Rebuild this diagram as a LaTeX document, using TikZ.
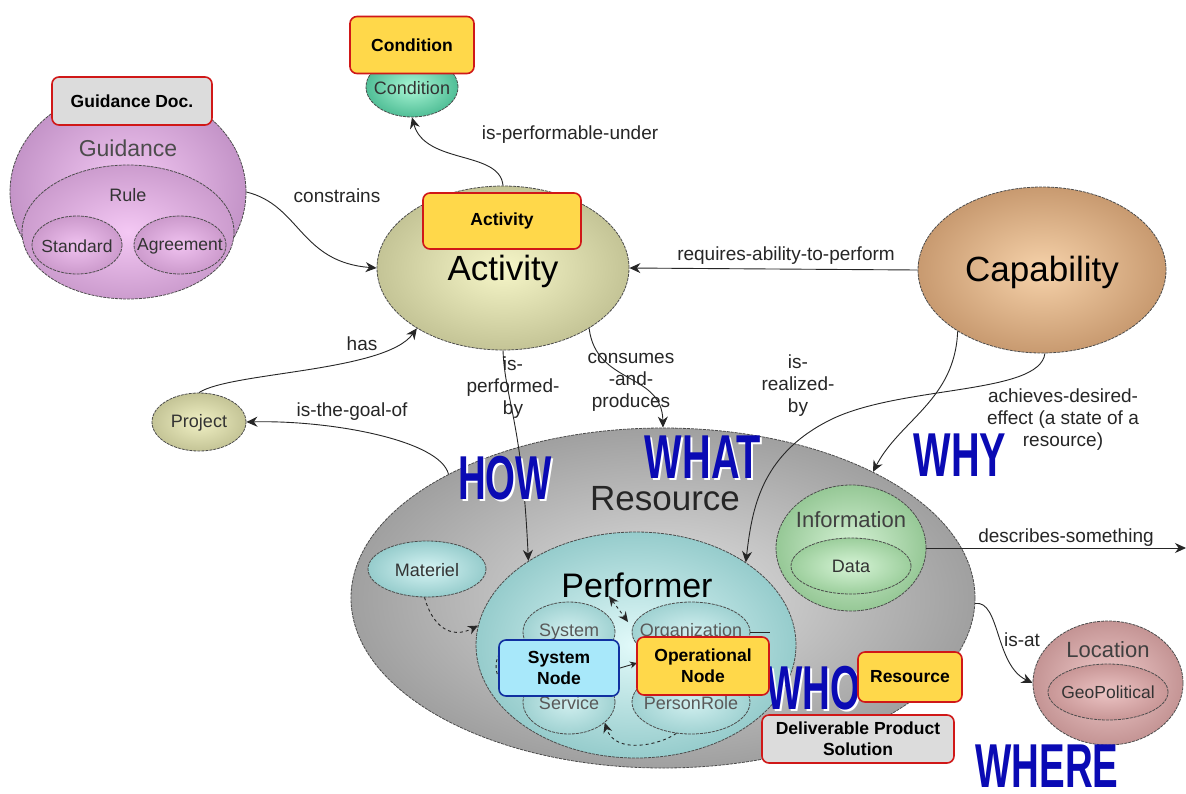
\documentclass[tikz,border=0pt]{standalone}
\usepackage{fontspec}
\setmainfont{Liberation Sans}
\usetikzlibrary{arrows.meta,shapes.geometric}
\definecolor{tagred}{HTML}{D01818}
\definecolor{tagyel}{HTML}{FFD84A}
\definecolor{taggray}{HTML}{DCDCDC}
\definecolor{tagblue}{HTML}{A8E8FA}
\definecolor{tagbluedraw}{HTML}{1030A0}
\definecolor{bigblue}{HTML}{0A0AB4}
\begin{document}
\begin{tikzpicture}[x=1pt,y=-1pt,
 ell/.style={ellipse, draw=black!70, line width=0.8pt, dash pattern=on 3pt off 1pt, inner sep=0pt},
 tag/.style={draw=tagred, line width=1.6pt, rounded corners=7pt, inner sep=0pt, align=center, font=\fontsize{17.5}{21}\selectfont\bfseries},
 lbl/.style={font=\fontsize{19}{22}\selectfont, align=center, text=black!85},
 con/.style={line width=0.9pt, draw=black!85, -{Stealth[length=11pt,width=10pt]}},
 dcon/.style={line width=0.9pt, draw=black!85, dashed, -{Stealth[length=10pt,width=9pt]}},
 big/.style={font=\fontsize{62}{62}\selectfont\bfseries, text=bigblue, inner sep=0pt},
 bigsh/.style={font=\fontsize{62}{62}\selectfont\bfseries, text=white, inner sep=0pt},
 etxt/.style={text=black!80, inner sep=0pt},
 small/.style={etxt, font=\fontsize{18}{21}\selectfont},
]
\useasboundingbox (0,0) rectangle (1186,793);
\fill[white] (0,0) rectangle (1186,793);

% ---------- Guidance ----------
\node[ell, minimum width=236pt, minimum height=206pt, inner color={rgb,255:red,246;green,204;blue,246}, outer color={rgb,255:red,196;green,148;blue,200}] (guid) at (128,192) {};
\node[ell, minimum width=212pt, minimum height=134pt, inner color={rgb,255:red,244;green,200;blue,244}, outer color={rgb,255:red,204;green,156;blue,206}] (rule) at (128,232) {};
\node[ell, minimum width=90pt, minimum height=58pt, inner color={rgb,255:red,240;green,194;blue,240}, outer color={rgb,255:red,204;green,154;blue,204}] (std) at (77,245) {};
\node[ell, minimum width=92pt, minimum height=58pt, inner color={rgb,255:red,240;green,194;blue,240}, outer color={rgb,255:red,204;green,154;blue,204}] (agr) at (180,245) {};
\node[etxt, font=\fontsize{23}{26}\selectfont, text=black!70] (guidT) at (128,148) {Guidance};
\node[etxt, font=\fontsize{18}{21}\selectfont] (ruleT) at (128,195) {Rule};
\node[etxt, font=\fontsize{17.5}{20}\selectfont] (stdT) at (77,246) {Standard};
\node[etxt, font=\fontsize{17.5}{20}\selectfont] (agrT) at (180,246) {Agreement};

% ---------- Condition ----------
\node[ell, minimum width=92pt, minimum height=60pt, inner color={rgb,255:red,170;green,246;blue,214}, outer color={rgb,255:red,80;green,190;blue,150}] (cond) at (412,87) {};
\node[small] (condT) at (412,88) {Condition};

% ---------- Activity ----------
\node[ell, minimum width=252pt, minimum height=164pt, inner color={rgb,255:red,246;green,246;blue,200}, outer color={rgb,255:red,196;green,196;blue,150}] (act) at (503,268) {};
\node[etxt, font=\fontsize{35}{40}\selectfont, text=black] (actT) at (503,271) {Activity};

% ---------- Capability ----------
\node[ell, minimum width=248pt, minimum height=166pt, inner color={rgb,255:red,246;green,210;blue,170}, outer color={rgb,255:red,200;green,154;blue,112}] (cap) at (1042,270) {};
\node[etxt, font=\fontsize{35}{40}\selectfont, text=black] (capT) at (1042,272) {Capability};

% ---------- Project ----------
\node[ell, minimum width=94pt, minimum height=58pt, inner color={rgb,255:red,240;green,240;blue,196}, outer color={rgb,255:red,196;green,196;blue,150}] (proj) at (199,422) {};
\node[small] (projT) at (199,423) {Project};

% ---------- Resource ----------
\node[ell, minimum width=624pt, minimum height=340pt, inner color={rgb,255:red,225;green,225;blue,225}, outer color={rgb,255:red,160;green,160;blue,160}] (res) at (663,598) {};
\node[etxt, font=\fontsize{35}{40}\selectfont, text=black!85] (resT) at (665,499) {Resource};

% Information
\node[ell, minimum width=150pt, minimum height=126pt, inner color={rgb,255:red,214;green,242;blue,214}, outer color={rgb,255:red,150;green,200;blue,150}] (info) at (851,548) {};
\node[ell, minimum width=120pt, minimum height=56pt, inner color={rgb,255:red,214;green,244;blue,214}, outer color={rgb,255:red,156;green,206;blue,156}] (data) at (851,566) {};
\node[etxt, font=\fontsize{22}{26}\selectfont, text=black!75] (infoT) at (851,520) {Information};
\node[small] (dataT) at (851,566) {Data};

% Materiel
\node[ell, minimum width=118pt, minimum height=56pt, inner color={rgb,255:red,214;green,244;blue,244}, outer color={rgb,255:red,150;green,204;blue,204}] (mat) at (427,569) {};
\node[small] (matT) at (427,570) {Materiel};

% Performer
\node[ell, minimum width=320pt, minimum height=226pt, inner color={rgb,255:red,226;green,250;blue,250}, outer color={rgb,255:red,150;green,204;blue,204}] (perf) at (636,645) {};
\node[etxt, font=\fontsize{34}{40}\selectfont, text=black] (perfT) at (637,585) {Performer};
\node[ell, minimum width=92pt, minimum height=60pt, inner color={rgb,255:red,210;green,240;blue,240}, outer color={rgb,255:red,160;green,210;blue,210}] (sys) at (569,632) {};
\node[ell, minimum width=118pt, minimum height=60pt, inner color={rgb,255:red,210;green,240;blue,240}, outer color={rgb,255:red,160;green,210;blue,210}] (org) at (691,632) {};
\node[ell, minimum width=92pt, minimum height=64pt, inner color={rgb,255:red,210;green,240;blue,240}, outer color={rgb,255:red,160;green,210;blue,210}] (serv) at (569,702) {};
\node[ell, minimum width=118pt, minimum height=64pt, inner color={rgb,255:red,210;green,240;blue,240}, outer color={rgb,255:red,160;green,210;blue,210}] (pers) at (691,702) {};
\node[small, text=black!65] (sysT) at (569,632) {System};
\node[small, text=black!65] (orgT) at (691,632) {Organization};
\node[small, text=black!65] (servT) at (569,703) {Service};
\node[small, text=black!65] (persT) at (691,703) {PersonRole};

% Location
\node[ell, minimum width=150pt, minimum height=124pt, inner color={rgb,255:red,240;green,204;blue,204}, outer color={rgb,255:red,196;green,148;blue,148}] (loc) at (1108,683) {};
\node[ell, minimum width=120pt, minimum height=56pt, inner color={rgb,255:red,236;green,196;blue,196}, outer color={rgb,255:red,200;green,150;blue,150}] (geo) at (1108,692) {};
\node[etxt, font=\fontsize{22}{26}\selectfont, text=black!75] (locT) at (1108,650) {Location};
\node[etxt, font=\fontsize{17.5}{20}\selectfont] (geoT) at (1108,692) {GeoPolitical};

% ---------- connectors ----------
\coordinate (outR) at (1186,548);
\coordinate (bmid) at (830,420);
\coordinate (so1) at (609,596);
\coordinate (so2) at (628,622);
\coordinate (so3) at (620,668);
\coordinate (so4) at (637,663);
\draw[con] (guid.east) .. controls (300,205) and (300,262) .. (act.west);
\draw[con] (act.north) .. controls (500,150) and (425,165) .. (cond.south);
\draw[con] (cap.west) -- (act.east);
\draw[con] (proj.north) .. controls (230,372) and (385,372) .. (act.215);
\draw[con] (res.150) .. controls (440,440) and (330,420) .. (proj.east);
\draw[con] (act.south) .. controls (505,400) and (522,420) .. (perf.142);
\draw[con] (act.-35) .. controls (596,385) and (662,372) .. (res.north);
\draw[con] (cap.216) .. controls (955,400) and (900,420) .. (res.31);
\draw[con] (cap.-88) .. controls (1040,395) and (900,385) .. (bmid) .. controls (760,455) and (752,510) .. (perf.37);
\draw[con] (info.east) -- (outR);
\draw[con] (res.-1) .. controls (1000,600) and (995,665) .. (loc.west);
\draw[dcon] (mat.-95) .. controls (432,625) and (450,640) .. (perf.173);
\draw[dcon, {Stealth[length=10pt,width=9pt]}-{Stealth[length=10pt,width=9pt]}] (so1) -- (so2);
\draw[dcon, {Stealth[length=9pt,width=8pt]}-{Stealth[length=9pt,width=8pt]}] (serv.165) .. controls (488,690) and (488,642) .. (sys.195);
\draw[dcon] (pers.-115) .. controls (660,745) and (615,755) .. (serv.-30);
\draw[line width=0.9pt, black!85, -{Stealth[length=7pt,width=7pt]}] (so3) -- (so4);
\draw[line width=0.9pt, black!85] (org.east) -- (770,632);

% ---------- edge labels ----------
\node[lbl] (l1) at (337,196) {constrains};
\node[lbl] (l2) at (570,135) {is-performable-under};
\node[lbl] (l3) at (786,256) {requires-ability-to-perform};
\node[lbl] (l4) at (362,344) {has};
\node[lbl] (l5) at (352,412) {is-the-goal-of};
\node[lbl] (l6) at (513,388) {is-\\performed-\\by};
\node[lbl] (l7) at (631,382) {consumes\\-and-\\produces};
\node[lbl] (l8) at (798,386) {is-\\realized-\\by};
\node[lbl] (l9) at (1063,420) {achieves-desired-\\effect (a state of a\\resource)};
\node[lbl] (l10) at (1066,538) {describes-something};
\node[lbl] (l11) at (1022,640) {is-at};

% ---------- big words ----------
\node[bigsh] at (507,480) {\scalebox{0.62}[1]{HOW}};
\node[big] (how) at (505,478) {\scalebox{0.62}[1]{HOW}};
\node[bigsh] at (705,459) {\scalebox{0.64}[1]{WHAT}};
\node[big] (what) at (703,457) {\scalebox{0.64}[1]{WHAT}};
\node[bigsh] at (962,457) {\scalebox{0.64}[1]{WHY}};
\node[big] (why) at (960,455) {\scalebox{0.64}[1]{WHY}};
\node[bigsh] at (815,690) {\scalebox{0.62}[1]{WHO}};
\node[big] (who) at (813,688) {\scalebox{0.62}[1]{WHO}};
\node[bigsh] at (1049,768) {\scalebox{0.62}[1]{WHERE}};
\node[big] (where) at (1047,766) {\scalebox{0.62}[1]{WHERE}};

% ---------- tag boxes ----------
\node[tag, fill=taggray, minimum width=160pt, minimum height=48pt] (tGuid) at (132,101) {Guidance Doc.};
\node[tag, fill=tagyel, minimum width=124pt, minimum height=57pt] (tCond) at (412,45) {Condition};
\node[tag, fill=tagyel, minimum width=158pt, minimum height=56pt] (tAct) at (502,221) {Activity};
\node[tag, draw=tagbluedraw, fill=tagblue, minimum width=120pt, minimum height=56pt] (tSys) at (559,668) {System\\Node};
\node[tag, fill=tagyel, minimum width=132pt, minimum height=58pt] (tOp) at (703,666) {Operational\\Node};
\node[tag, fill=tagyel, minimum width=104pt, minimum height=50pt] (tRes) at (910,677) {Resource};
\node[tag, fill=taggray, minimum width=192pt, minimum height=48pt] (tDel) at (858,739) {Deliverable Product\\Solution};
\end{tikzpicture}
\end{document}
